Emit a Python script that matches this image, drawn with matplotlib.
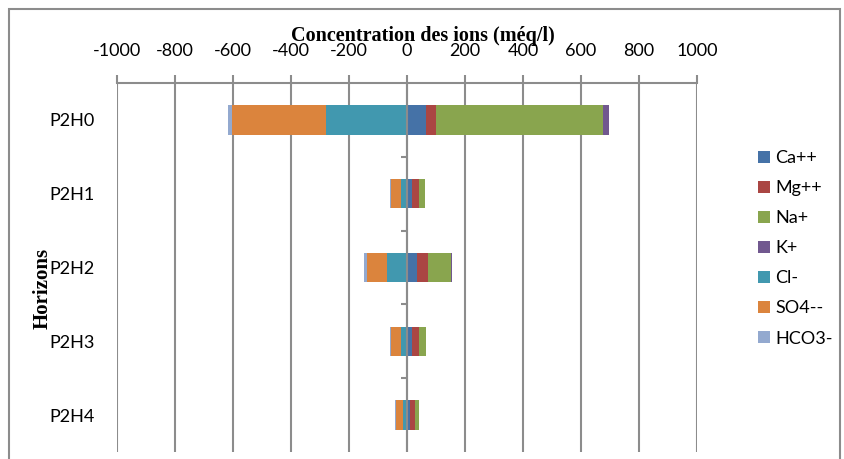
import matplotlib.pyplot as plt
import numpy as np
from matplotlib.patches import Rectangle

# ion concentrations per horizon (méq/l); anions are plotted to the left of zero
horizons = ['P2H0', 'P2H1', 'P2H2', 'P2H3', 'P2H4']
ca = [67, 17, 36, 17, 12]
mg = [34, 25, 38, 25, 17]
na = [576, 19, 79, 22, 12]
k = [20, 2, 2, 1, 1]
cl = [281, 22, 70, 22, 15]
so4 = [323, 33, 69, 33, 23]
hco3 = [13, 3, 8, 3, 3]

cations = [('Ca++', ca, '#4572A7'), ('Mg++', mg, '#AA4643'),
           ('Na+', na, '#89A54E'), ('K+', k, '#71588F')]
anions = [('Cl-', cl, '#4198AF'), ('SO4--', so4, '#DB843D'),
          ('HCO3-', hco3, '#93A9CF')]

plt.rcParams['font.family'] = ['Lato', 'DejaVu Sans']
plt.rcParams['axes.unicode_minus'] = False
grid_col = '#8c8c8c'

fig = plt.figure(figsize=(8.45, 4.59), dpi=100)
W, H = 845, 459
ax = fig.add_axes([117 / W, 1 - 452 / H, (697 - 117) / W, (452 - 83) / H])

y = np.arange(len(horizons))
left = np.zeros(len(horizons))
for name, vals, col in cations:
    ax.barh(y, vals, left=left, height=0.4, color=col, label=name, zorder=3)
    left += np.array(vals)
left = np.zeros(len(horizons))
for name, vals, col in anions:
    left -= np.array(vals)
    ax.barh(y, vals, left=left, height=0.4, color=col, label=name, zorder=3)

ax.set_xlim(-1000, 1000)
ax.set_ylim(len(horizons) - 0.5, -0.5)
ax.set_xticks(np.arange(-1000, 1001, 200))
ax.xaxis.tick_top()
ax.tick_params(axis='x', direction='out', length=6, width=1.5, color=grid_col,
               pad=11, labelsize=13)
ax.grid(axis='x', color=grid_col, linewidth=1.5, zorder=0)
ax.set_yticks(y)
ax.set_yticklabels(horizons)
ax.tick_params(axis='y', length=0, pad=16, labelsize=13)
for s in ['left', 'right', 'bottom']:
    ax.spines[s].set_visible(False)
ax.spines['top'].set_color(grid_col)
ax.spines['top'].set_linewidth(1.5)

# category axis at zero, with short ticks between horizons
ax.axvline(0, color=grid_col, linewidth=1.5, zorder=4)
ax.hlines(np.arange(0.5, len(horizons) - 0.5, 1.0), -20, 0, color=grid_col,
          linewidth=1.5, zorder=4)

fig.text(423 / W, 1 - 36 / H, 'Concentration des ions (méq/l)', ha='center',
         va='center', fontsize=14.5, fontweight='bold', family='Liberation Serif')
fig.text(43 / W, 1 - 288 / H, 'Horizons', ha='center', va='center',
         rotation=90, fontsize=15, fontweight='bold', family='Liberation Serif')

ax.legend(loc='upper left', bbox_to_anchor=(758 / W, 1 - 150 / H),
          bbox_transform=fig.transFigure, frameon=False, fontsize=13,
          handlelength=0.67, handleheight=0.67, handletextpad=0.3,
          labelspacing=0.78, borderpad=0, borderaxespad=0)

fig.patches.append(Rectangle((9 / W, -0.05), (840 - 9) / W, 1.05 - 9 / H,
                             transform=fig.transFigure, fill=False,
                             edgecolor=grid_col, linewidth=1.5))

fig.savefig('out.png', dpi=100)
